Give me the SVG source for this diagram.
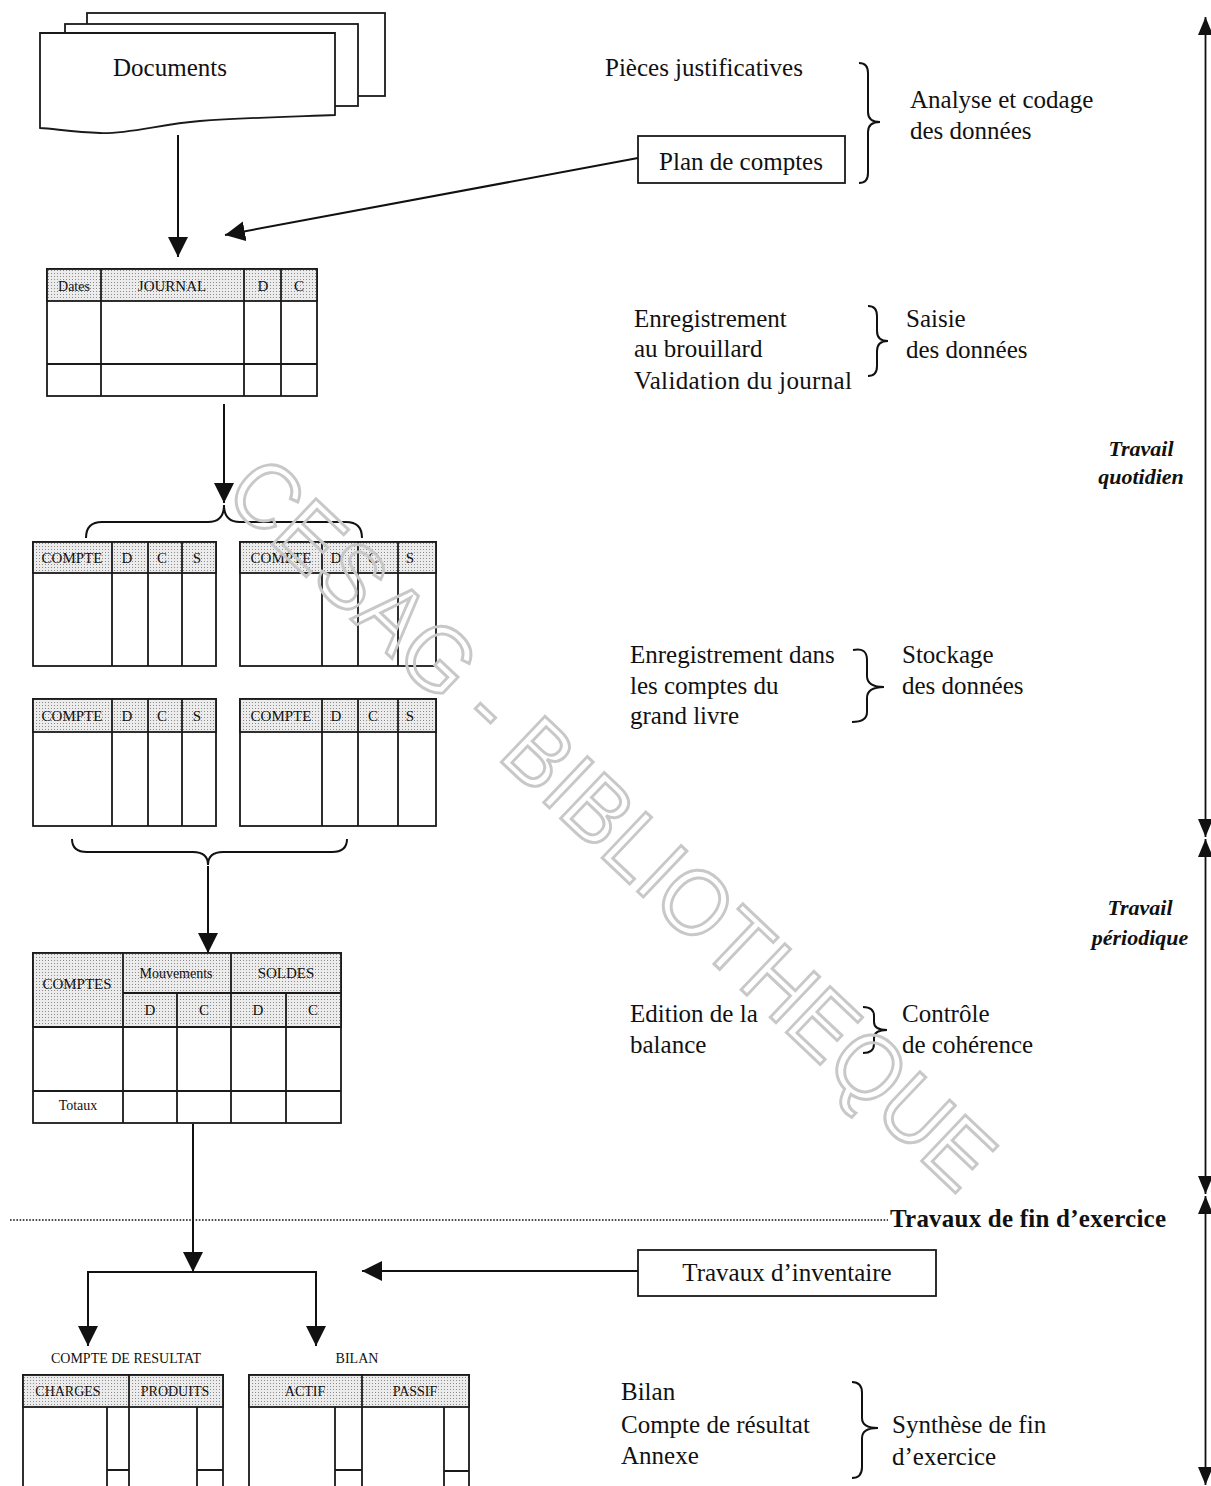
<svg xmlns="http://www.w3.org/2000/svg" width="1211" height="1486" viewBox="0 0 1211 1486">
  <defs>
    <pattern id="dots" width="3" height="3" patternUnits="userSpaceOnUse">
      <rect width="3" height="3" fill="#ececec"/>
      <rect width="1" height="1" fill="#8a8a8a"/>
    </pattern>
    <marker id="arr" markerUnits="userSpaceOnUse" markerWidth="22" markerHeight="22" refX="20" refY="10" orient="auto">
      <path d="M0,0 L20,10 L0,20 Z" fill="#111"/>
    </marker>
    <marker id="arrS" markerUnits="userSpaceOnUse" markerWidth="20" markerHeight="16" refX="18" refY="7.5" orient="auto-start-reverse">
      <path d="M0,0 L18,7.5 L0,15 Z" fill="#111"/>
    </marker>
    <style>
      .t { font-family: "Liberation Serif", "Times New Roman", serif; fill: #111; }
      .lg { font-size: 25px; }
      .sm { font-size: 15px; }
      .xs { font-size: 14px; }
      .bi { font-size: 22px; font-weight: bold; font-style: italic; }
      .b { font-size: 25px; font-weight: bold; }
      .tb { fill: #fff; stroke: #1a1a1a; stroke-width: 1.8; }
      .hd { fill: url(#dots); stroke: #1a1a1a; stroke-width: 1.8; }
      .ln { stroke: #1a1a1a; stroke-width: 1.8; fill: none; }
      .cn { stroke: #111; stroke-width: 2; fill: none; }
      .br { stroke: #111; stroke-width: 2; fill: none; }
      .mid { text-anchor: middle; }
      .wm { font-family: "Liberation Sans", Arial, sans-serif; font-size: 92px; fill: none; stroke: #c8c8c8; stroke-width: 3; }
    </style>
  </defs>

  <rect width="1211" height="1486" fill="#fff"/>

  <!-- source documents -->
  <g id="documents">
    <rect x="87" y="13" width="298" height="83" class="tb"/>
    <rect x="65" y="24" width="293" height="82" class="tb"/>
    <path d="M40,33 L335,33 L335,115 C280,117 240,118 200,121 C160,124 130,134 100,133 C75,132 55,129 40,128 Z" class="tb"/>
    <text x="170" y="76" class="t lg mid">Documents</text>
  </g>

  <g id="plan-comptes">
    <rect x="638" y="136" width="207" height="47" class="tb"/>
    <text x="741" y="170" class="t lg mid">Plan de comptes</text>
  </g>

  <!-- journal -->
  <g id="journal">
    <rect x="47" y="269" width="270" height="127" class="tb"/>
    <rect x="47" y="269" width="270" height="32" class="hd"/>
    <path d="M101,269 V396 M244,269 V396 M281,269 V396 M47,364 H317" class="ln"/>
    <text x="74" y="291" class="t xs mid">Dates</text>
    <text x="172" y="291" class="t sm mid">JOURNAL</text>
    <text x="263" y="291" class="t sm mid">D</text>
    <text x="299" y="291" class="t sm mid">C</text>
  </g>

  <!-- ledger accounts -->
  <g id="compte-1">
    <rect x="33" y="542" width="183" height="124" class="tb"/>
    <rect x="33" y="542" width="183" height="31" class="hd"/>
    <path d="M112,542 V666 M148,542 V666 M182,542 V666" class="ln"/>
    <text x="72" y="563" class="t sm mid">COMPTE</text>
    <text x="127" y="563" class="t sm mid">D</text>
    <text x="162" y="563" class="t sm mid">C</text>
    <text x="197" y="563" class="t sm mid">S</text>
  </g>
  <g id="compte-2">
    <rect x="240" y="542" width="196" height="124" class="tb"/>
    <rect x="240" y="542" width="196" height="31" class="hd"/>
    <path d="M322,542 V666 M358,542 V666 M398,542 V666" class="ln"/>
    <text x="281" y="563" class="t sm mid">COMPTE</text>
    <text x="336" y="563" class="t sm mid">D</text>
    <text x="373" y="563" class="t sm mid">C</text>
    <text x="410" y="563" class="t sm mid">S</text>
  </g>
  <g id="compte-3">
    <rect x="33" y="699" width="183" height="127" class="tb"/>
    <rect x="33" y="699" width="183" height="33" class="hd"/>
    <path d="M112,699 V826 M148,699 V826 M182,699 V826" class="ln"/>
    <text x="72" y="721" class="t sm mid">COMPTE</text>
    <text x="127" y="721" class="t sm mid">D</text>
    <text x="162" y="721" class="t sm mid">C</text>
    <text x="197" y="721" class="t sm mid">S</text>
  </g>
  <g id="compte-4">
    <rect x="240" y="699" width="196" height="127" class="tb"/>
    <rect x="240" y="699" width="196" height="33" class="hd"/>
    <path d="M322,699 V826 M358,699 V826 M398,699 V826" class="ln"/>
    <text x="281" y="721" class="t sm mid">COMPTE</text>
    <text x="336" y="721" class="t sm mid">D</text>
    <text x="373" y="721" class="t sm mid">C</text>
    <text x="410" y="721" class="t sm mid">S</text>
  </g>

  <!-- trial balance -->
  <g id="balance">
    <rect x="33" y="953" width="308" height="170" class="tb"/>
    <rect x="33" y="953" width="308" height="74" class="hd"/>
    <path d="M123,953 V1123 M231,953 V1123 M177,993 V1123 M286,993 V1123 M123,993 H341 M33,1027 H341 M33,1091 H341" class="ln"/>
    <text x="77" y="989" class="t sm mid">COMPTES</text>
    <text x="176" y="978" class="t xs mid">Mouvements</text>
    <text x="286" y="978" class="t sm mid">SOLDES</text>
    <text x="150" y="1015" class="t sm mid">D</text>
    <text x="204" y="1015" class="t sm mid">C</text>
    <text x="258" y="1015" class="t sm mid">D</text>
    <text x="313" y="1015" class="t sm mid">C</text>
    <text x="78" y="1110" class="t xs mid">Totaux</text>
  </g>

  <g id="inventaire">
    <rect x="638" y="1250" width="298" height="46" class="tb"/>
    <text x="787" y="1281" class="t lg mid">Travaux d’inventaire</text>
  </g>

  <!-- income statement -->
  <g id="compte-resultat">
    <text x="126" y="1363" class="t xs mid">COMPTE DE RESULTAT</text>
    <path d="M23,1500 V1375 H223 V1500" class="tb"/>
    <rect x="23" y="1375" width="200" height="32" class="hd"/>
    <path d="M129,1375 V1500 M107,1407 V1500 M197,1407 V1500 M107,1470 H129 M197,1470 H223" class="ln"/>
    <text x="68" y="1396" class="t xs mid">CHARGES</text>
    <text x="175" y="1396" class="t xs mid">PRODUITS</text>
  </g>

  <!-- balance sheet -->
  <g id="bilan">
    <text x="357" y="1363" class="t xs mid">BILAN</text>
    <path d="M249,1500 V1375 H469 V1500" class="tb"/>
    <rect x="249" y="1375" width="220" height="32" class="hd"/>
    <path d="M362,1375 V1500 M335,1407 V1500 M444,1407 V1500 M335,1470 H362 M444,1471 H469" class="ln"/>
    <text x="305" y="1396" class="t xs mid">ACTIF</text>
    <text x="415" y="1396" class="t xs mid">PASSIF</text>
  </g>

  <!-- process descriptions -->
  <g id="analyse">
    <text x="605" y="76" class="t lg">Pièces justificatives</text>
    <path d="M859,63 Q868,63 868,73 L868,112 Q868,122 880,122 Q868,122 868,132 L868,173 Q868,183 859,183" class="br"/>
    <text x="910" y="108" class="t lg">Analyse et codage</text>
    <text x="910" y="139" class="t lg">des données</text>
  </g>
  <g id="saisie">
    <text x="634" y="327" class="t lg">Enregistrement</text>
    <text x="634" y="357" class="t lg">au brouillard</text>
    <text x="634" y="389" class="t lg" textLength="218">Validation du journal</text>
    <path d="M868,306 Q877,306 877,316 L877,331 Q877,341 888,341 Q877,341 877,351 L877,366 Q877,376 868,376" class="br"/>
    <text x="906" y="327" class="t lg">Saisie</text>
    <text x="906" y="358" class="t lg">des données</text>
  </g>
  <g id="stockage">
    <text x="630" y="663" class="t lg">Enregistrement dans</text>
    <text x="630" y="694" class="t lg">les comptes du</text>
    <text x="630" y="724" class="t lg">grand livre</text>
    <path d="M853,650 Q867,647 867,660 L867,676 Q867,687 884,687 Q867,687 867,698 L867,712 Q867,722 852,722" class="br"/>
    <text x="902" y="663" class="t lg">Stockage</text>
    <text x="902" y="694" class="t lg">des données</text>
  </g>
  <g id="controle">
    <text x="630" y="1022" class="t lg">Edition de la</text>
    <text x="630" y="1053" class="t lg">balance</text>
    <path d="M863,1007 Q874,1007 874,1016 L874,1022 Q874,1030 887,1030 Q874,1030 874,1038 L874,1044 Q874,1053 863,1053" class="br"/>
    <text x="902" y="1022" class="t lg">Contrôle</text>
    <text x="902" y="1053" class="t lg">de cohérence</text>
  </g>
  <g id="synthese">
    <text x="621" y="1400" class="t lg">Bilan</text>
    <text x="621" y="1433" class="t lg">Compte de résultat</text>
    <text x="621" y="1464" class="t lg">Annexe</text>
    <path d="M852,1382 Q862,1382 862,1393 L862,1418 Q862,1428 878,1428 Q862,1428 862,1438 L862,1467 Q862,1478 852,1478" class="br"/>
    <text x="892" y="1433" class="t lg">Synthèse de fin</text>
    <text x="892" y="1465" class="t lg">d’exercice</text>
  </g>

  <!-- period labels -->
  <g id="periodes">
    <text x="1141" y="456" class="t bi mid">Travail</text>
    <text x="1141" y="484" class="t bi mid">quotidien</text>
    <text x="1140" y="915" class="t bi mid">Travail</text>
    <text x="1140" y="945" class="t bi mid">périodique</text>
    <line x1="10" y1="1220" x2="888" y2="1220" stroke="#111" stroke-width="1.6" stroke-dasharray="1.6 1.6"/>
    <text x="890" y="1227" class="t b" textLength="276">Travaux de fin d’exercice</text>
  </g>

  <!-- connectors -->
  <g id="connectors">
    <line x1="178" y1="135" x2="178" y2="257" class="cn" marker-end="url(#arr)"/>
    <line x1="638" y1="158" x2="225" y2="235" class="cn" marker-end="url(#arr)"/>
    <line x1="224" y1="404" x2="224" y2="503" class="cn" marker-end="url(#arr)"/>
    <path d="M86,538 Q86,522 102,522 L208,522 Q224,522 224,505 Q224,522 240,522 L346,522 Q362,522 362,538" class="br"/>
    <path d="M72,839 Q72,852 87,852 L193,852 Q208,852 208,865 Q208,852 223,852 L332,852 Q347,852 347,839" class="br"/>
    <line x1="208" y1="866" x2="208" y2="953" class="cn" marker-end="url(#arr)"/>
    <line x1="193" y1="1124" x2="193" y2="1272" class="cn" marker-end="url(#arr)"/>
    <path d="M316,1345 V1272 H88 V1345" class="cn"/>
    <line x1="88" y1="1272" x2="88" y2="1346" class="cn" marker-end="url(#arr)"/>
    <line x1="316" y1="1272" x2="316" y2="1346" class="cn" marker-end="url(#arr)"/>
    <line x1="638" y1="1271" x2="362" y2="1271" class="cn" marker-end="url(#arr)"/>
    <!-- time scale on the right -->
    <line x1="1205.5" y1="17" x2="1205.5" y2="837" stroke="#111" stroke-width="1.8" marker-start="url(#arrS)" marker-end="url(#arrS)"/>
    <line x1="1205.5" y1="839" x2="1205.5" y2="1194" stroke="#111" stroke-width="1.8" marker-start="url(#arrS)" marker-end="url(#arrS)"/>
    <line x1="1205.5" y1="1196" x2="1205.5" y2="1485" stroke="#111" stroke-width="1.8" marker-start="url(#arrS)" marker-end="url(#arrS)"/>
  </g>

  <!-- library stamp laid over the page -->
  <text transform="translate(222,497) rotate(43.5)" x="0" y="0" textLength="1015" lengthAdjust="spacingAndGlyphs" class="wm">CESAG - BIBLIOTHEQUE</text>
</svg>
